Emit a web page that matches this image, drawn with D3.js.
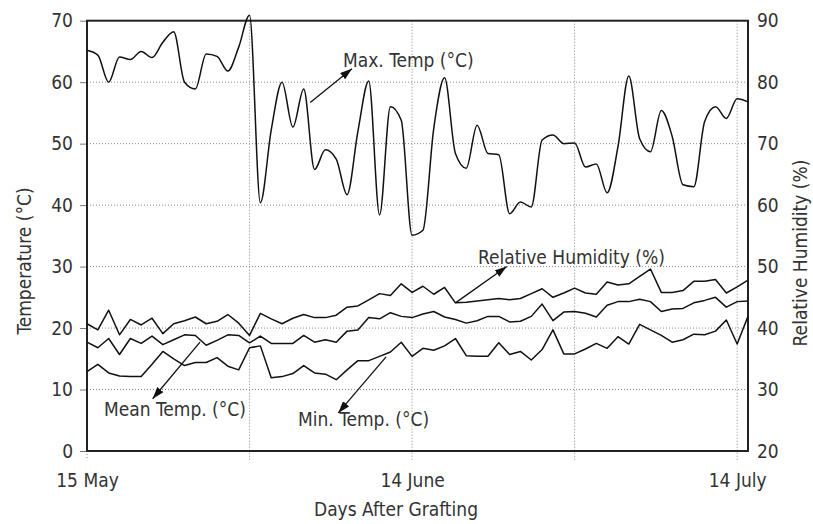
<!DOCTYPE html>
<html>
<head>
<meta charset="utf-8">
<script src="https://cdn.jsdelivr.net/npm/d3@7"></script>
<style>
    body { margin: 0; background: #fff; }
    text { font-family: "DejaVu Sans Condensed", "DejaVu Sans", sans-serif; font-stretch: condensed; fill: #333; }
</style>
</head>
<body>
<div id="chart"></div>
<script>
// daily values, day 0 = 15 May
const maxTemp = [65.2, 64.4, 60.0, 64.1, 63.7, 65.0, 64.0, 66.5, 68.2, 60.0,
                 58.9, 64.6, 64.2, 61.8, 65.7, 70.9, 40.4, 52.2, 60.0, 52.7,
                 58.9, 45.8, 49.0, 47.5, 41.7, 52.0, 60.2, 38.4, 56.0, 53.8,
                 35.1, 35.9, 52.5, 60.7, 48.4, 46.0, 53.0, 48.4, 48.2, 38.6,
                 40.5, 39.7, 50.6, 51.4, 50.0, 50.1, 46.2, 46.7, 42.0, 49.5,
                 61.0, 50.8, 48.7, 55.4, 51.2, 43.3, 43.0, 53.6, 56.0, 54.1,
                 57.3, 56.8];
const meanTemp = [17.7, 16.8, 18.3, 15.7, 18.3, 17.5, 18.7, 17.3, 18.1, 18.9,
                  18.8, 17.2, 18.0, 18.9, 18.8, 17.6, 18.7, 17.5, 17.5, 17.5,
                  18.8, 17.7, 18.1, 17.7, 19.5, 19.7, 21.7, 21.5, 22.5, 21.9,
                  21.7, 22.3, 22.7, 21.8, 21.4, 20.8, 21.2, 21.9, 21.9, 21.0,
                  21.1, 21.9, 23.9, 21.2, 22.6, 22.7, 22.4, 21.8, 23.7, 24.3,
                  24.3, 24.7, 24.3, 22.7, 23.1, 23.2, 24.1, 24.5, 25.0, 23.4,
                  24.3, 24.4];
const minTemp = [12.9, 14.1, 12.7, 12.2, 12.1, 12.1, 14.1, 16.2, 15.0, 13.9,
                 14.4, 14.4, 15.2, 13.8, 13.2, 16.8, 17.1, 11.9, 12.1, 12.6,
                 13.9, 12.7, 12.5, 11.6, 13.2, 14.7, 14.7, 15.4, 16.1, 17.7,
                 15.4, 16.7, 16.4, 17.1, 18.3, 15.5, 15.4, 15.4, 17.6, 15.7,
                 16.2, 14.8, 16.5, 19.7, 15.8, 15.8, 16.6, 17.5, 16.7, 18.6,
                 17.4, 20.6, 19.7, 18.8, 17.7, 18.1, 19.0, 18.9, 19.5, 21.3,
                 17.4, 21.9];
const humidity = [40.7, 39.7, 42.9, 38.9, 41.4, 40.5, 41.6, 39.1, 40.7, 41.2,
                  41.8, 40.7, 41.1, 42.2, 40.8, 38.8, 42.4, 41.5, 40.7, 41.6,
                  42.2, 41.7, 41.7, 42.1, 43.4, 43.6, 44.6, 45.6, 45.3, 47.2,
                  45.8, 46.8, 45.5, 46.6, 44.1, 44.2, 44.4, 44.6, 44.8, 44.6,
                  44.8, 45.6, 46.4, 45.0, 45.7, 46.5, 45.7, 45.5, 47.5, 47.0,
                  47.2, 48.4, 49.6, 45.8, 45.8, 46.1, 47.6, 47.6, 47.9, 45.7,
                  46.7, 47.8];

const dateTicks = [0, 30, 60];
const dateLabels = ["15 May", "14 June", "14 July"];
const gridDays = [0, 15, 30, 45, 60];
const tempTicks = [0, 10, 20, 30, 40, 50, 60, 70];
const rhTicks = [20, 30, 40, 50, 60, 70, 80, 90];

function drawChart() {
    w = 813;
    h = 524;

    var svg = d3.select("#chart").append("svg")
                .attr("width", w)
                .attr("height", h);

    xScale = d3.scaleLinear().domain([0, 61]).range([87, 748]);
    yTemp = d3.scaleLinear().domain([0, 70]).range([451, 20.7]);
    yRH = d3.scaleLinear().domain([20, 90]).range([451, 20.7]);

    // dotted grid
    svg.append("g")
        .selectAll("line")
        .data(tempTicks.slice(1, -1))
        .enter()
        .append("line")
        .attr("x1", xScale(0)).attr("x2", xScale(61))
        .attr("y1", d => yTemp(d)).attr("y2", d => yTemp(d))
        .attr("stroke", "#8a8a8a")
        .attr("stroke-dasharray", "1,2");

    svg.append("g")
        .selectAll("line")
        .data(gridDays)
        .enter()
        .append("line")
        .attr("x1", d => xScale(d)).attr("x2", d => xScale(d))
        .attr("y1", d => d == 0 ? yTemp(0) : yTemp(70))
        .attr("y2", yTemp(0) + 9)
        .attr("stroke", "#8a8a8a")
        .attr("stroke-dasharray", "1,2");

    // left axis
    var left = svg.append("g")
        .attr("transform", "translate(" + xScale(0) + ",0)")
        .call(d3.axisLeft(yTemp).tickValues(tempTicks).tickSize(7).tickPadding(7));
    left.select(".domain").remove();
    left.selectAll("line").attr("stroke", "#777");
    left.selectAll("text").style("font-size", "19px").attr("fill", "#333");

    // right axis
    var right = svg.append("g")
        .attr("transform", "translate(" + xScale(61) + ",0)")
        .call(d3.axisRight(yRH).tickValues(rhTicks).tickSize(0).tickPadding(9));
    right.select(".domain").remove();
    right.selectAll("text").style("font-size", "19px").attr("fill", "#333");

    // bottom axis
    var bottom = svg.append("g")
        .attr("transform", "translate(0," + yTemp(0) + ")")
        .call(d3.axisBottom(xScale).tickValues(dateTicks).tickSize(0).tickPadding(23)
              .tickFormat((d, i) => dateLabels[i]));
    bottom.select(".domain").remove();
    bottom.selectAll("text").style("font-size", "19px").attr("fill", "#333");

    // frame
    svg.append("rect")
        .attr("x", xScale(0)).attr("y", yTemp(70))
        .attr("width", xScale(61) - xScale(0))
        .attr("height", yTemp(0) - yTemp(70))
        .attr("fill", "none")
        .attr("stroke", "#222")
        .attr("stroke-width", 2);

    // series
    var smooth = d3.line()
        .x((d, i) => xScale(i))
        .y(d => yTemp(d))
        .curve(d3.curveMonotoneX);
    var straight = d3.line()
        .x((d, i) => xScale(i))
        .y(d => yTemp(d));
    var rhLine = d3.line()
        .x((d, i) => xScale(i))
        .y(d => yRH(d));

    [[maxTemp, smooth], [meanTemp, straight], [minTemp, straight], [humidity, rhLine]].forEach(function(s) {
        svg.append("path")
            .attr("d", s[1](s[0]))
            .attr("fill", "none")
            .attr("stroke", "#111")
            .attr("stroke-width", 1.5)
            .attr("stroke-linejoin", "round");
    });

    // arrow head
    svg.append("defs").append("marker")
        .attr("id", "head")
        .attr("viewBox", "0 -4 12 8")
        .attr("refX", 12).attr("refY", 0)
        .attr("markerUnits", "userSpaceOnUse")
        .attr("markerWidth", 12).attr("markerHeight", 8)
        .attr("orient", "auto")
        .append("path")
        .attr("d", "M0,-4L12,0L0,4Z")
        .attr("fill", "#111");

    // annotations: [from day, from temp, to day, to temp, label, label x, label y]
    var notes = [
        [20.6, 56.7, 24.45, 62.2, "Max. Temp (°C)", 343, 67],
        [34, humidity[34] - 20, 38.74, 30.0, "Relative Humidity (%)", 478, 264],
        [10.43, 17.7, 6.06, 8.5, "Mean Temp. (°C)", 104, 416],
        [27.6, 15.3, 23.19, 6.2, "Min. Temp. (°C)", 298, 426]
    ];

    notes.forEach(function(n) {
        svg.append("line")
            .attr("x1", xScale(n[0])).attr("y1", yTemp(n[1]))
            .attr("x2", xScale(n[2])).attr("y2", yTemp(n[3]))
            .attr("stroke", "#111")
            .attr("stroke-width", 1.3)
            .attr("marker-end", "url(#head)");
        svg.append("text")
            .attr("x", n[5]).attr("y", n[6])
            .style("font-size", "19px")
            .text(n[4]);
    });

    // axis titles
    svg.append("text")
        .attr("text-anchor", "middle")
        .attr("x", 396).attr("y", 516)
        .style("font-size", "19px")
        .text("Days After Grafting");

    svg.append("text")
        .attr("text-anchor", "middle")
        .attr("transform", "translate(31,261) rotate(-90)")
        .style("font-size", "19px")
        .text("Temperature (°C)");

    svg.append("text")
        .attr("text-anchor", "middle")
        .attr("transform", "translate(807,253) rotate(-90)")
        .style("font-size", "19px")
        .text("Relative Humidity (%)");
}

window.onload = drawChart();
</script>
</body>
</html>
